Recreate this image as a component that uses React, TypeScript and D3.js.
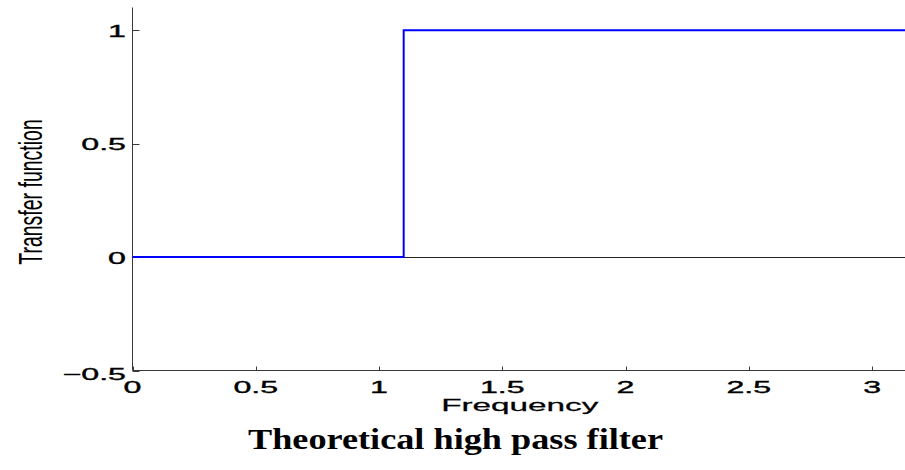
import React, { useRef, useEffect } from "react";
import * as d3 from "d3";

// ideal high pass: 0 below the cutoff, 1 above it
const freq = [0, 1.1, Math.PI];
const gain = [0, 1, 1];
const xTicks = [0, 0.5, 1, 1.5, 2, 2.5, 3];
const yTicks = [-0.5, 0, 0.5, 1];
const xTickLabels = ["0", "0.5", "1", "1.5", "2", "2.5", "3"];
const yTickLabels = ["\u22120.5", "0", "0.5", "1"];

const W = 905;
const H = 470;

const App = () => {
  const svgRef = useRef<SVGSVGElement>(null);

  useEffect(() => {
    const svg = d3.select(svgRef.current);
    svg.selectAll("*").remove();

    const x = d3.scaleLinear().domain([0, Math.PI]).range([132.5, 907]);
    const y = d3.scaleLinear().domain([-0.5, 1.1]).range([370.5, 7.5]);
    const font = "'Liberation Sans', Arial, Helvetica, sans-serif";
    const axisColor = "#3a3a3a";

    // zero reference line
    svg
      .append("line")
      .attr("x1", x(0))
      .attr("x2", W)
      .attr("y1", Math.round(y(0)) + 0.5)
      .attr("y2", Math.round(y(0)) + 0.5)
      .attr("stroke", "#222")
      .attr("stroke-width", 1);

    // axes (left and bottom only)
    svg
      .append("line")
      .attr("x1", x(0))
      .attr("x2", x(0))
      .attr("y1", y(1.1))
      .attr("y2", y(-0.5))
      .attr("stroke", axisColor);
    svg
      .append("line")
      .attr("x1", x(0))
      .attr("x2", W)
      .attr("y1", y(-0.5))
      .attr("y2", y(-0.5))
      .attr("stroke", axisColor);

    // ticks, pointing inward
    svg
      .append("g")
      .selectAll("line")
      .data(xTicks)
      .join("line")
      .attr("x1", (d) => Math.round(x(d)) + 0.5)
      .attr("x2", (d) => Math.round(x(d)) + 0.5)
      .attr("y1", y(-0.5))
      .attr("y2", y(-0.5) - 4)
      .attr("stroke", axisColor);
    svg
      .append("g")
      .selectAll("line")
      .data(yTicks)
      .join("line")
      .attr("x1", x(0))
      .attr("x2", x(0) + 7)
      .attr("y1", (d) => Math.round(y(d)) + 0.5)
      .attr("y2", (d) => Math.round(y(d)) + 0.5)
      .attr("stroke", axisColor);

    // tick labels (stretched wide like the original export)
    svg
      .append("g")
      .selectAll("text")
      .data(xTicks)
      .join("text")
      .attr("transform", (d) => `translate(${x(d)},392.5) scale(1.95,1)`)
      .attr("text-anchor", "middle")
      .attr("font-family", font)
      .attr("font-size", 16.5)
      .attr("fill", "#000")
      .attr("stroke", "#000")
      .attr("stroke-width", 0.35)
      .text((d, i) => xTickLabels[i]);
    svg
      .append("g")
      .selectAll("text")
      .data(yTicks)
      .join("text")
      .attr("transform", (d) => `translate(126,${y(d) + (d < 0 ? 9 : 6.5)}) scale(1.95,1)`)
      .attr("text-anchor", "end")
      .attr("font-family", font)
      .attr("font-size", 16.5)
      .attr("fill", "#000")
      .attr("stroke", "#000")
      .attr("stroke-width", 0.35)
      .text((d, i) => yTickLabels[i]);

    // axis titles
    svg
      .append("text")
      .attr("transform", `translate(${(x(0) + x(Math.PI)) / 2},411) scale(1.98,1)`)
      .attr("text-anchor", "middle")
      .attr("font-family", font)
      .attr("font-size", 16.8)
      .attr("fill", "#000")
      .attr("stroke", "#000")
      .attr("stroke-width", 0.25)
      .text("Frequency");
    svg
      .append("text")
      .attr("transform", "translate(42,192) rotate(-90) scale(1,1.75)")
      .attr("text-anchor", "middle")
      .attr("font-family", font)
      .attr("font-size", 19.5)
      .attr("fill", "#000")
      .text("Transfer function");

    // the filter response
    const line = d3
      .line<number>()
      .x((d, i) => x(freq[i]))
      .y((d) => y(d))
      .curve(d3.curveStepAfter);
    svg
      .append("path")
      .datum(gain)
      .attr("fill", "none")
      .attr("stroke", "#0000ff")
      .attr("stroke-width", 2)
      .attr("d", line);

    // figure title
    svg
      .append("text")
      .attr("x", 455.5)
      .attr("y", 449)
      .attr("text-anchor", "middle")
      .attr("font-family", "'Liberation Serif', 'Times New Roman', serif")
      .attr("font-weight", "bold")
      .attr("font-size", 29)
      .attr("textLength", 415)
      .attr("lengthAdjust", "spacingAndGlyphs")
      .attr("fill", "#000")
      .text("Theoretical high pass filter");
  }, []);

  return (
    <svg
      ref={svgRef}
      width={W}
      height={H}
      style={{ position: "absolute", left: 0, top: 0, background: "#fff" }}
    ></svg>
  );
};

export default App;
